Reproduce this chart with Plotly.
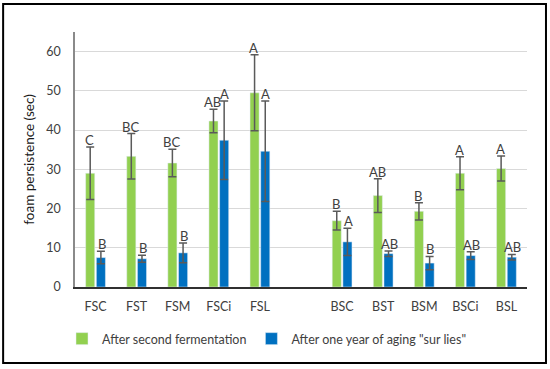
import plotly.graph_objects as go

categories = ["FSC", "FST", "FSM", "FSCi", "FSL", " ", "BSC", "BST", "BSM", "BSCi", "BSL"]
after_fermentation = [29.0, 33.3, 31.6, 42.3, 49.5, None, 16.9, 23.3, 19.3, 29.0, 30.2]
after_fermentation_err = [6.7, 5.8, 3.5, 3.0, 9.7, None, 2.4, 4.3, 2.2, 4.2, 3.2]
after_aging = [7.5, 7.2, 8.7, 37.4, 34.6, None, 11.5, 8.5, 6.1, 8.0, 7.6]
after_aging_err = [1.6, 0.9, 2.5, 10.0, 12.8, None, 3.5, 0.7, 1.7, 1.0, 0.7]
letters_fermentation = ["C", "BC", "BC", "AB", "A", "", "B", "AB", "B", "A", "A"]
letters_aging = ["B", "B", "B", "A", "A", "", "A", "AB", "B", "AB", "AB"]

GREEN = "#92D050"
BLUE = "#0070C0"
ERR = "#5a5a5a"
FONT = "Lato"

fig = go.Figure()
fig.add_trace(go.Bar(
    x=categories, y=after_fermentation, name="After second fermentation",
    marker_color=GREEN,
    error_y=dict(type="data", array=after_fermentation_err, color=ERR, thickness=1.5, width=4),
))
fig.add_trace(go.Bar(
    x=categories, y=after_aging, name='After one year of aging "sur lies"',
    marker_color=BLUE,
    error_y=dict(type="data", array=after_aging_err, color=ERR, thickness=1.5, width=4),
))

annotations = []
for cat, v, e, t in zip(categories, after_fermentation, after_fermentation_err, letters_fermentation):
    if v is None:
        continue
    annotations.append(dict(x=cat, y=v + e, text=t, showarrow=False, xshift=-6, yshift=-3,
                            yanchor="bottom", font=dict(family=FONT, size=13, color="#404040")))
for cat, v, e, t in zip(categories, after_aging, after_aging_err, letters_aging):
    if v is None:
        continue
    annotations.append(dict(x=cat, y=v + e, text=t, showarrow=False, xshift=6, yshift=-3,
                            yanchor="bottom", font=dict(family=FONT, size=13, color="#404040")))

fig.update_layout(
    width=550, height=369,
    margin=dict(l=75, r=23, t=32, b=82, autoexpand=False),
    paper_bgcolor="white", plot_bgcolor="white",
    barmode="group", bargap=0.48, bargroupgap=0.15,
    font=dict(family=FONT, size=12, color="#404040"),
    annotations=annotations,
    legend=dict(orientation="h", x=0.5 - 8 / 550, xanchor="center", xref="container",
                y=30 / 369, yanchor="middle", yref="container",
                font=dict(family=FONT, size=12.5, color="#404040"),
                itemwidth=30, traceorder="normal"),
    shapes=[dict(type="rect", xref="paper", yref="paper", x0=-0.159, x1=1.042, y0=-0.298, y1=1.11,
                 line=dict(color="black", width=2))],
)
fig.update_xaxes(
    type="category", showline=True, linecolor="#303030", linewidth=1.5,
    showgrid=False, ticks="", ticklabelstandoff=7,
    tickfont=dict(family=FONT, size=12.5, color="#404040"),
)
fig.update_yaxes(
    range=[0, 65], tickvals=[0, 10, 20, 30, 40, 50, 60],
    showline=True, linecolor="#8a8a8a", linewidth=1.5,
    showgrid=True, gridcolor="#d9d9d9", gridwidth=1.2,
    zeroline=False, ticks="", ticklabelstandoff=10,
    tickfont=dict(family=FONT, size=12.5, color="#404040"),
    title=dict(text="foam persistence (sec)", font=dict(family=FONT, size=13.5, color="#1a1a1a"), standoff=9),
)

fig.write_html("out.html", config={"displayModeBar": False},
               post_script="document.body.style.margin='0';")
